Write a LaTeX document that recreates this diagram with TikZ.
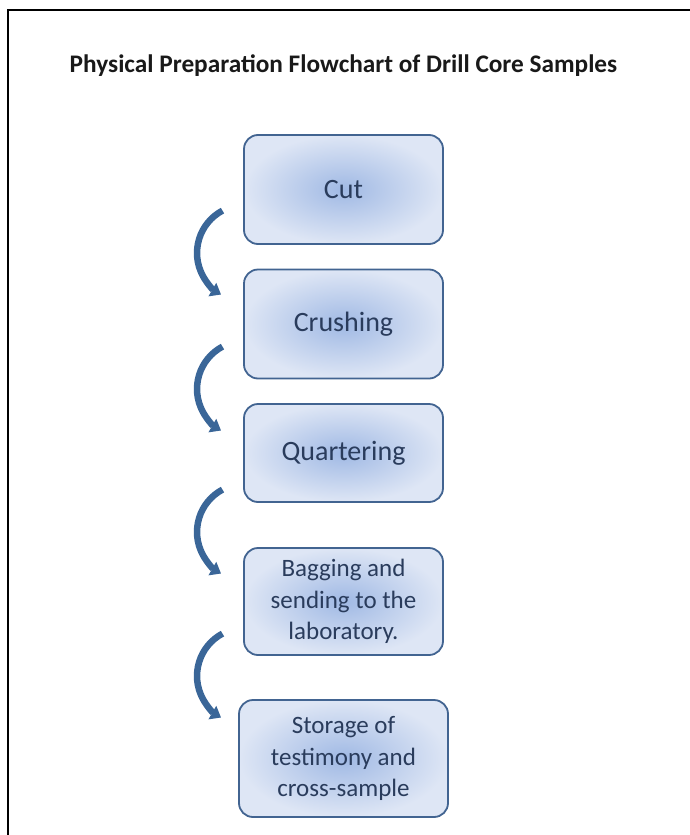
\documentclass[tikz,border=0pt]{standalone}
\usepackage{fontspec}
\setmainfont{Carlito}
\usetikzlibrary{arrows.meta}
\definecolor{boxedge}{RGB}{66,100,145}
\definecolor{boxin}{RGB}{160,185,228}
\definecolor{boxout}{RGB}{222,230,245}
\definecolor{txt}{RGB}{42,60,92}
\definecolor{arrowc}{RGB}{58,102,152}
\begin{document}
\begin{tikzpicture}[x=1pt,y=1pt,
  stage/.style={draw=boxedge, line width=1.8pt, rounded corners=14pt,
    inner color=boxin, outer color=boxout, text=txt,
    font=\fontsize{28}{32}\selectfont, align=center,
    minimum width=199pt, minimum height=109pt, inner sep=0pt},
  multi/.style={font=\fontsize{25}{31.5}\selectfont},
  conn/.style={draw=arrowc, line width=6.5pt, -{Triangle[width=15pt,length=10pt]}},
  frame/.style={draw=black, line width=2pt}]
\useasboundingbox (0,0) rectangle (690,-835);
% frame
\coordinate (fbl) at (8,-836);
\coordinate (ftl) at (8,-10);
\coordinate (ftr) at (691,-10);
\draw[frame] (fbl) -- (ftl) -- (ftr);
% title
\node[font=\fontsize{25.3}{30}\selectfont\bfseries, text=black!90] (title) at (343.5,-66)
  {Physical Preparation Flowchart of Drill Core Samples};
% stages
\node[stage] (cut) at (343.5,-189.5) {Cut};
\node[stage] (crush) at (343.5,-324) {Crushing};
\node[stage, minimum height=98pt] (quart) at (343.5,-453) {Quartering};
\node[stage, multi, minimum height=107pt] (bag) at (343.5,-601.5) {Bagging and\\sending to the\\laboratory.};
\node[stage, multi, minimum width=209pt, minimum height=117pt] (store) at (343.5,-758.5) {Storage of\\testimony and\\cross-sample};
% connectors
\coordinate (s1) at (222.5,-210.6);
\coordinate (s2) at (222.5,-346.6);
\coordinate (s3) at (222.5,-489.6);
\coordinate (s4) at (222.5,-633.6);
\draw[conn] (s1) arc[start angle=118, end angle=240, radius=48pt];
\draw[conn] (s2) arc[start angle=118, end angle=240, radius=48pt];
\draw[conn] (s3) arc[start angle=118, end angle=240, radius=48pt];
\draw[conn] (s4) arc[start angle=118, end angle=240, radius=48pt];
\end{tikzpicture}
\end{document}
